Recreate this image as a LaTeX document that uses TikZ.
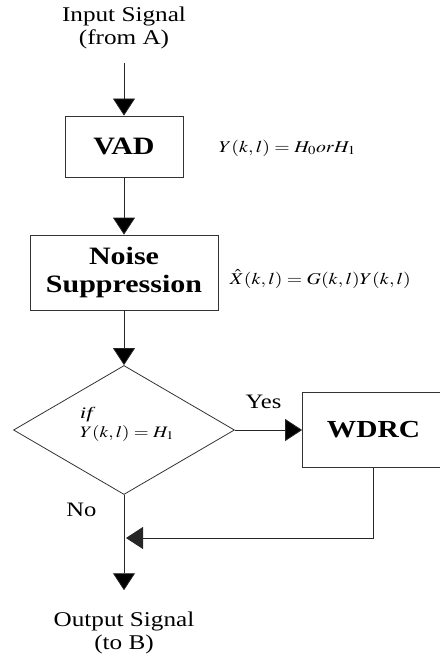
\documentclass[tikz,border=0pt]{standalone}
\usepackage{mathptmx}
\usepackage[no-math]{fontspec}
\setmainfont[FakeStretch=1.2]{Liberation Serif}
\usetikzlibrary{arrows.meta,positioning,shapes.geometric}

\begin{document}
\begin{tikzpicture}[->,>={Triangle[width=22pt,length=17pt]},node distance=126pt,on grid,
      line width=0.8pt,
      blk/.style={draw=black!80,align=center,inner sep=0pt,
        font=\fontsize{25}{28}\selectfont\bfseries},
      sig/.style={align=center,font=\fontsize{21}{23}\selectfont},
      eq/.style={inner sep=0pt,xscale=1.2,transform shape,font=\fontsize{16.5}{18}\selectfont}]
  \useasboundingbox (0,0) rectangle (439pt,-658pt);
  % blocks
  \node[blk,minimum width=118pt,minimum height=61pt] (vad) at (124pt,-146.5pt) {VAD};
  \node[sig] (in) [above=118.5pt of vad] {Input Signal\\(from A)};
  \node[blk,minimum width=188pt,minimum height=75pt] (ns) [below=of vad] {Noise\\Suppression};
  \node[draw=black!80,diamond,minimum width=221pt,minimum height=129pt,inner sep=0pt]
    (dec) [below=157.5pt of ns] {};
  \node[blk,minimum width=142pt,minimum height=75pt,font=\fontsize{24.5}{28}\selectfont\bfseries]
    (wdrc) [right=249.5pt of dec] {WDRC};
  \node[sig] (out) [below=203pt of dec] {Output Signal\\(to B)};
  \coordinate (jn) at ([yshift=-108pt]dec.center);
  % texts
  \node[eq] (eqvad) [right=35pt of vad.east,anchor=west,yshift=-1.5pt] {$Y(k,l)=H_0 or H_1$};
  \node[eq] (eqns) [right=11pt of ns.east,anchor=west,yshift=-6.5pt] {$\hat{X}(k,l)=G(k,l)Y(k,l)$};
  \node[eq,align=left,font=\fontsize{16}{19}\selectfont] (cond) [right=-44.5pt of dec,anchor=west,yshift=6pt]
    {\textit{if}\\$Y(k,l)=H_1$};
  \node[sig,font=\fontsize{20.5}{23}\selectfont] (yes) [above right=28pt and 139.5pt of dec] {Yes};
  \node[sig,font=\fontsize{20.5}{23}\selectfont] (no) [below left=80pt and 42.5pt of dec] {No};
  % connectors
  \path[draw=black!85]
    (in) edge[shorten <=10pt] (vad)
    (vad) edge (ns)
    (ns) edge (dec)
    (dec) edge (wdrc)
    (dec) edge[shorten >=18pt] (out);
  \draw[draw=black!85,shorten >=2pt] (wdrc) |- (jn);
\end{tikzpicture}
\end{document}
